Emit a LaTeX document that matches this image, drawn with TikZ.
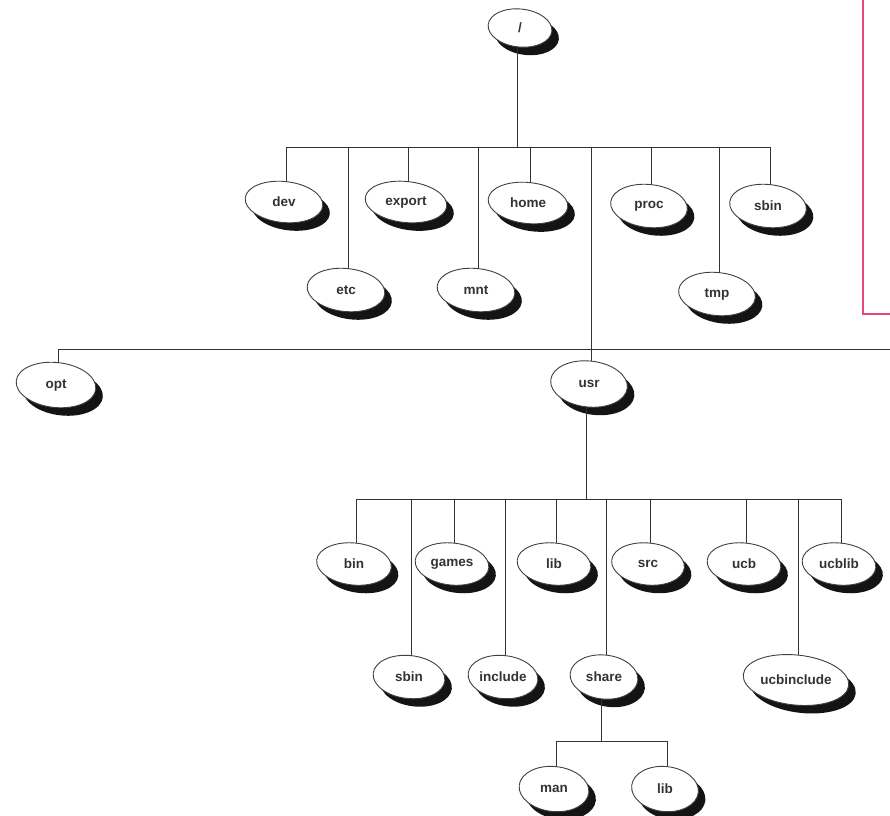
\documentclass[tikz,border=0pt]{standalone}
\usepackage{fontspec}
\setmainfont{Liberation Sans}
\usetikzlibrary{shapes.geometric}

% one directory: drop shadow, white ellipse, label
% #1 name, #2 x, #3 y, #4 width, #5 height, #6 text
\newcommand{\dirnode}[6]{%
  \node[dirshadow, minimum width=#4pt, minimum height=#5pt] (#1-s) at (#2+7,#3+8) {};
  \node[dirshape, minimum width=#4pt, minimum height=#5pt] (#1) at (#2,#3) {};
  \node[dirlabel] (#1-t) at (#1.center) {#6};
}

\begin{document}
\begin{tikzpicture}[x=1pt,y=-1pt,
  link/.style={draw=black!80, line width=1pt},
  dirshape/.style={ellipse, draw=black!75, line width=0.9pt, fill=white, inner sep=0pt, rotate=-6},
  dirshadow/.style={ellipse, fill=black!92, inner sep=0pt, rotate=-6},
  dirlabel/.style={font=\fontsize{13.5}{15}\selectfont\bfseries, inner sep=0pt, text=black!80},
  frameline/.style={draw={rgb,255:red,226;green,74;blue,120}, line width=1.2pt}]
\useasboundingbox[fill=white] (0,0) rectangle (890,815);

% frame corner at the upper right
\coordinate (frametop) at (863,0);
\coordinate (framecorner) at (863,314);
\coordinate (frameend) at (890,314);
\draw[frameline] (frametop) -- (framecorner) -- (frameend);

% root and first level
\dirnode{root}{520}{28}{64}{38}{/}
\dirnode{dev}{284}{202}{78}{41}{dev}
\dirnode{etc}{346}{290}{78}{43}{etc}
\dirnode{export}{406}{202}{82}{41}{export}
\dirnode{mnt}{476}{290}{78}{43}{mnt}
\dirnode{home}{528}{203}{80}{41}{home}
\dirnode{proc}{649}{206}{77}{43}{proc}
\dirnode{tmp}{717}{294}{77}{43}{tmp}
\dirnode{sbin}{768}{206}{77}{43}{sbin}
\dirnode{opt}{56}{385}{80}{45}{opt}
\dirnode{usr}{589}{384}{77}{46}{usr}

% children of usr
\dirnode{bin}{354}{564}{75}{42}{bin}
\dirnode{usrsbin}{409}{677}{72}{43}{sbin}
\dirnode{games}{452}{564}{74}{42}{games}
\dirnode{include}{503}{677}{70}{43}{include}
\dirnode{lib}{554}{564}{74}{42}{lib}
\dirnode{share}{604}{677}{68}{44}{share}
\dirnode{src}{648}{564}{73}{42}{src}
\dirnode{ucb}{744}{564}{74}{42}{ucb}
\dirnode{ucbinclude}{796}{680}{106}{50}{ucbinclude}
\dirnode{ucblib}{839}{564}{74}{42}{ucblib}

% children of share
\dirnode{man}{554}{789}{70}{45}{man}
\dirnode{sharelib}{665}{789}{67}{45}{lib}

% buses
\coordinate (topbus) at (518,147);
\coordinate (lowend) at (890,349);
\coordinate (usrbus) at (588,499);
\coordinate (sharebus) at (604,741);

% root to first level
\draw[link] (root.south) -- (root.south |- topbus);
\draw[link] (dev.north |- topbus) -- (sbin.north |- topbus);
\foreach \n in {dev,etc,export,mnt,home,proc,tmp,sbin}
  \draw[link] (\n.north) -- (\n.north |- topbus);
\draw[link] (usr.north |- topbus) -- (usr.north);
\draw[link] (opt.north |- lowend) -- (lowend);
\draw[link] (opt.north) -- (opt.north |- lowend);

% usr to its children
\draw[link] (usr.south) -- (usr.south |- usrbus);
\draw[link] (bin.north |- usrbus) -- (ucblib.north |- usrbus);
\foreach \n in {bin,usrsbin,games,include,lib,share,src,ucb,ucbinclude,ucblib}
  \draw[link] (\n.north) -- (\n.north |- usrbus);

% share to its children
\draw[link] (share.south) -- (share.south |- sharebus);
\draw[link] (man.north |- sharebus) -- (sharelib.north |- sharebus);
\foreach \n in {man,sharelib}
  \draw[link] (\n.north) -- (\n.north |- sharebus);
\end{tikzpicture}
\end{document}
